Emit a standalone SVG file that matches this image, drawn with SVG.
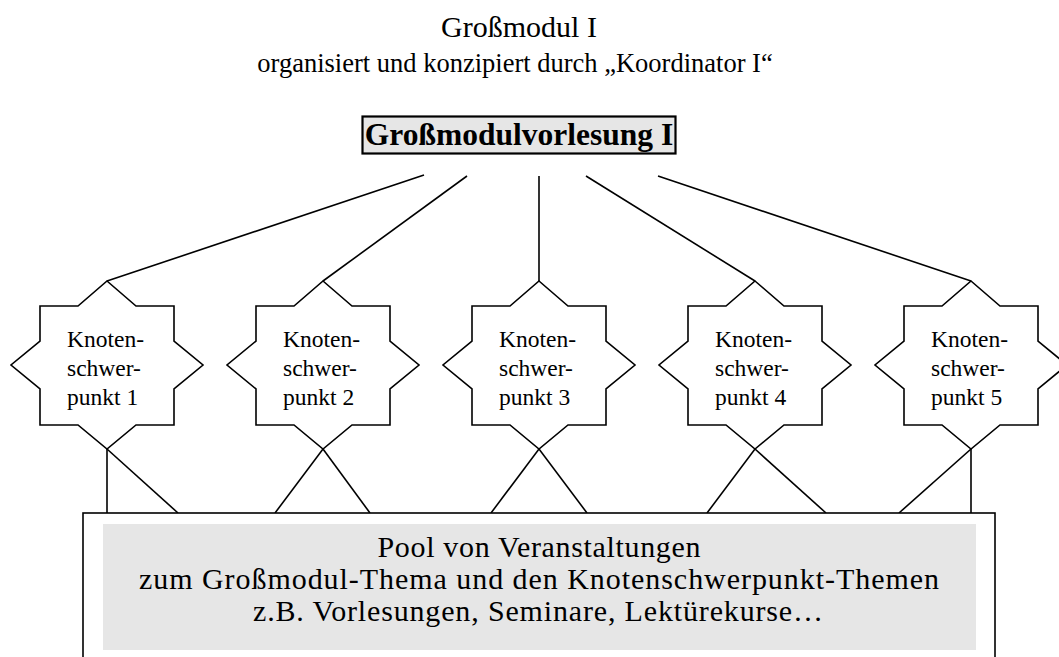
<svg xmlns="http://www.w3.org/2000/svg" xmlns:xlink="http://www.w3.org/1999/xlink" width="1059" height="657" viewBox="0 0 1059 657">
<style>
  text { font-family: "Liberation Serif", "Times New Roman", serif; fill: #000; }
  .title1 { font-size: 30px; text-anchor: middle; }
  .title2 { font-size: 26.5px; text-anchor: middle; }
  .lecture { font-size: 31.5px; font-weight: bold; text-anchor: middle; }
  .star { fill: #fff; stroke: #000; stroke-width: 1.6; stroke-linejoin: miter; }
  .slabel { font-size: 23.5px; }
  .pool { font-size: 30px; text-anchor: middle; }
  .conn line { stroke: #000; stroke-width: 1.6; }
</style>
<defs>
  <polygon id="starShape" points="0,-84 29,-59 67,-59 67,-24 96,0 67,24 67,60 29,60 0,84 -29,60 -67,60 -67,24 -96,0 -67,-24 -67,-59 -29,-59"/>
</defs>
<rect width="1059" height="657" fill="#fff"/>

<g id="title">
  <text class="title1" x="519" y="37">Großmodul I</text>
  <text class="title2" x="515" y="72">organisiert und konzipiert durch „Koordinator I“</text>
</g>

<g class="conn" id="connectors">
  <line x1="424" y1="175" x2="107" y2="281"/>
  <line x1="467" y1="176" x2="323" y2="281"/>
  <line x1="539" y1="176" x2="539" y2="281"/>
  <line x1="586" y1="176" x2="755" y2="281"/>
  <line x1="658" y1="176" x2="971" y2="281"/>
  <line x1="107" y1="449" x2="107" y2="513"/>
  <line x1="107" y1="449" x2="178" y2="513"/>
  <line x1="323" y1="449" x2="275" y2="513"/>
  <line x1="323" y1="449" x2="370" y2="513"/>
  <line x1="539" y1="449" x2="491" y2="513"/>
  <line x1="539" y1="449" x2="587" y2="513"/>
  <line x1="755" y1="449" x2="707" y2="513"/>
  <line x1="755" y1="449" x2="826" y2="513"/>
  <line x1="971" y1="449" x2="899" y2="513"/>
  <line x1="971" y1="449" x2="971" y2="513"/>
</g>

<g id="lecture">
  <rect x="362.5" y="116.5" width="313" height="37" fill="#e6e6e6" stroke="#000" stroke-width="2.2"/>
  <text class="lecture" x="519" y="145">Großmodulvorlesung I</text>
</g>

<g id="node1" transform="translate(107,365)">
  <use xlink:href="#starShape" class="star"/>
  <text class="slabel" x="-40" y="-18">Knoten-</text>
  <text class="slabel" x="-40" y="11">schwer-</text>
  <text class="slabel" x="-40" y="40">punkt 1</text>
</g>
<g id="node2" transform="translate(323,365)">
  <use xlink:href="#starShape" class="star"/>
  <text class="slabel" x="-40" y="-18">Knoten-</text>
  <text class="slabel" x="-40" y="11">schwer-</text>
  <text class="slabel" x="-40" y="40">punkt 2</text>
</g>
<g id="node3" transform="translate(539,365)">
  <use xlink:href="#starShape" class="star"/>
  <text class="slabel" x="-40" y="-18">Knoten-</text>
  <text class="slabel" x="-40" y="11">schwer-</text>
  <text class="slabel" x="-40" y="40">punkt 3</text>
</g>
<g id="node4" transform="translate(755,365)">
  <use xlink:href="#starShape" class="star"/>
  <text class="slabel" x="-40" y="-18">Knoten-</text>
  <text class="slabel" x="-40" y="11">schwer-</text>
  <text class="slabel" x="-40" y="40">punkt 4</text>
</g>
<g id="node5" transform="translate(971,365)">
  <use xlink:href="#starShape" class="star"/>
  <text class="slabel" x="-40" y="-18">Knoten-</text>
  <text class="slabel" x="-40" y="11">schwer-</text>
  <text class="slabel" x="-40" y="40">punkt 5</text>
</g>

<g id="pool">
  <rect x="83" y="513" width="912" height="170" fill="#fff" stroke="#000" stroke-width="1.6"/>
  <rect x="103" y="524" width="873" height="126" fill="#e6e6e6"/>
  <text class="pool" x="539" y="557" textLength="323" lengthAdjust="spacing">Pool von Veranstaltungen</text>
  <text class="pool" x="539" y="589" textLength="800" lengthAdjust="spacing">zum Großmodul-Thema und den Knotenschwerpunkt-Themen</text>
  <text class="pool" x="538" y="621" textLength="570" lengthAdjust="spacing">z.B. Vorlesungen, Seminare, Lektürekurse…</text>
</g>
</svg>
